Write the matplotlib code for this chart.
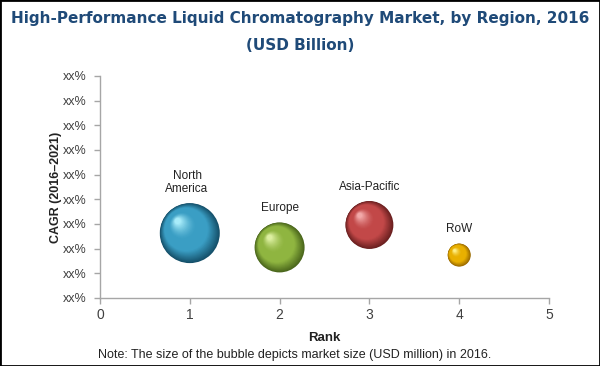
import numpy as np
import matplotlib
matplotlib.use('Agg')
import matplotlib.pyplot as plt
import matplotlib.transforms as mtransforms
from matplotlib.colors import to_rgb
from matplotlib.patches import Rectangle

# Datos del gráfico (valores estimados a partir de la imagen)
regiones = ['North\nAmerica', 'Europe', 'Asia-Pacific', 'RoW']
rank = [1, 2, 3, 4]
cagr = [2.63, 2.05, 2.96, 1.74]          # posición en el eje (xx%)
market_size = [3.6, 2.5, 2.3, 0.53]      # tamaño relativo del mercado
y_ticks = list(range(10))
y_labels = ['xx%'] * 10
x_ticks = [0, 1, 2, 3, 4, 5]

# Colores de cada esfera: borde oscuro, base, brillo
colores = [
    ('#15506a', '#3a9ec4', '#a8ecfa'),
    ('#4a661c', '#8fb540', '#dcefa0'),
    ('#6a2020', '#c24848', '#f2a8a8'),
    ('#9a6a00', '#e9b000', '#ffef85'),
]

escala = 518  # puntos^2 por unidad de tamaño de mercado


def mezcla(c1, c2, t):
    a = np.array(to_rgb(c1))
    b = np.array(to_rgb(c2))
    return tuple(a + (b - a) * t)


fig = plt.figure(figsize=(6, 3.66), dpi=100)
ax = fig.add_axes([100 / 600, 1 - 298 / 366, 449 / 600, 222 / 366])

# Esferas con sombreado por capas
n = 40
for x, y, m, (oscuro, base, brillo) in zip(rank, cagr, market_size, colores):
    s = m * escala
    r = np.sqrt(s) / 2  # radio en puntos
    for i in range(n):
        t = i / (n - 1)
        f = 1 - 0.9 * t
        if t < 0.3:
            c = mezcla(oscuro, base, t / 0.3)
        elif t < 0.6:
            c = to_rgb(base)
        else:
            c = mezcla(base, brillo, ((t - 0.6) / 0.4) ** 1.5)
        off = t * r * 0.4
        tr = mtransforms.offset_copy(ax.transData, fig=fig, x=-off, y=off, units='points')
        ax.scatter([x], [y], s=s * f * f, color=c, edgecolors='none', transform=tr,
                   zorder=3 + i * 0.01, clip_on=False)

# Etiquetas de las regiones
for x, y, m, nombre in zip(rank, cagr, market_size, regiones):
    r = np.sqrt(m * escala) / 2
    ax.annotate(nombre, (x, y), xytext=(-2 if 'North' in nombre else 0, r + 6),
                textcoords='offset points', ha='center', va='bottom',
                fontsize=8.5, color='#222222', family='Liberation Sans',
                linespacing=1.05)

ax.set_xlim(0, 5)
ax.set_ylim(0, 9)
ax.set_xticks(x_ticks)
ax.set_xticklabels([str(v) for v in x_ticks], family='Liberation Sans', fontsize=10,
                   color='#404040')
ax.set_yticks(y_ticks)
ax.set_yticklabels(y_labels, family='Liberation Sans', fontsize=9, color='#404040')

for lado in ['top', 'right']:
    ax.spines[lado].set_visible(False)
for lado in ['left', 'bottom']:
    ax.spines[lado].set_color('#a6a6a6')
    ax.spines[lado].set_linewidth(1)
ax.tick_params(axis='both', colors='#a6a6a6', length=4, width=1, labelcolor='#404040')
ax.tick_params(axis='y', pad=6)
ax.tick_params(axis='x', pad=3)

ax.set_xlabel('Rank', family='Liberation Sans', fontsize=9.5, fontweight='bold',
              color='#222222')
ax.xaxis.set_label_coords(0.5, (298 - 332) / 222)
ax.set_ylabel('CAGR (2016\u20132021)', family='Liberation Sans', fontsize=9,
              fontweight='bold', color='#222222')
ax.yaxis.set_label_coords((62 - 100) / 449, 0.5)

# Título
fig.text(0.5, 1 - 18 / 366, 'High-Performance Liquid Chromatography Market, by Region, 2016',
         ha='center', va='center', fontsize=11, fontweight='bold', color='#1f4a78',
         family='DejaVu Sans')
fig.text(0.5, 1 - 45 / 366, '(USD Billion)', ha='center', va='center', fontsize=11,
         fontweight='bold', color='#1f4a78', family='DejaVu Sans')

# Nota
fig.text(295 / 600, 1 - 355 / 366,
         'Note: The size of the bubble depicts market size (USD million) in 2016.',
         ha='center', va='center', fontsize=9, color='#222222', family='Liberation Sans')

# Marco negro
fig.patches.append(Rectangle((0, 0), 1, 1, transform=fig.transFigure, fill=False,
                             edgecolor='black', linewidth=2, zorder=10))

fig.savefig('out.png', dpi=100)
